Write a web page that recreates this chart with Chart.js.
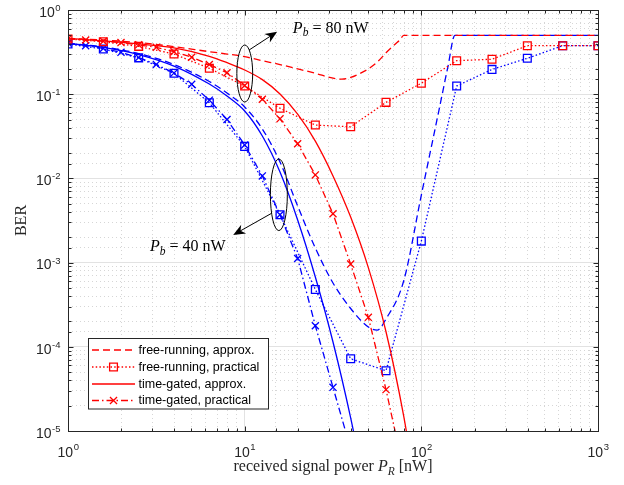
<!DOCTYPE html>
<html><head><meta charset="utf-8">
<script src="https://cdn.jsdelivr.net/npm/chart.js@4.4.0/dist/chart.umd.min.js"></script>
<style>html,body{margin:0;padding:0;background:#fff}#wrap{width:624px;height:485px}</style>
</head><body><div id="wrap"><canvas id="c" width="624" height="485"></canvas></div>
<script>
// ---------- data (x: received power in nW, y: BER) ----------
const xTickExp = [0, 1, 2, 3];
const yTickExp = [-5, -4, -3, -2, -1, 0];

// free-running, approx.  Pb = 80 nW (red)
const P_fa80 = [1, 1.585, 2.512, 3.981, 6.31, 7.943, 10, 12.59, 15.85, 19.95, 25.12, 31.62, 35.48, 39.81, 44.67, 50.12, 56.23, 63.1, 70.79, 75.51, 79.43, 1000];
const B_fa80 = [0.46, 0.44, 0.41, 0.367, 0.32, 0.30, 0.279, 0.25, 0.225, 0.20, 0.177, 0.155, 0.151, 0.158, 0.175, 0.20, 0.24, 0.31, 0.39, 0.44, 0.50, 0.50];
// time-gated, approx.  Pb = 80 nW (red)
const P_ta80 = [1, 1.585, 2.512, 3.981, 6.31, 7.943, 10, 12.59, 15.85, 19.95, 25.12, 31.62, 39.81, 50.12, 63.1, 79.43, 100];
const B_ta80 = [0.46, 0.43, 0.395, 0.355, 0.282, 0.237, 0.194, 0.149, 0.1007, 0.0579, 0.0277, 0.0107, 0.00347, 8.71e-4, 1.51e-4, 1.51e-5, 7.9e-7];
// free-running, approx.  Pb = 40 nW (blue)
const P_fa40 = [1, 1.585, 2.512, 3.981, 6.31, 7.943, 10, 12.59, 15.85, 19.95, 25.12, 31.62, 39.81, 50.12, 56.23, 63.1, 79.43, 100, 125.9, 141.3, 154.9, 1000];
const B_fa40 = [0.40, 0.3636, 0.304, 0.2253, 0.1415, 0.1033, 0.0705, 0.0386, 0.01566, 4.7e-3, 1.49e-3, 5.73e-4, 2.85e-4, 1.72e-4, 1.58e-4, 2.14e-4, 6.04e-4, 6.35e-3, 0.0649, 0.2104, 0.50, 0.50];
// time-gated, approx.  Pb = 40 nW (blue)
const P_ta40 = [1, 1.585, 2.512, 3.981, 6.31, 7.943, 10, 12.59, 15.85, 19.95, 25.12, 31.62, 39.81, 50.12];
const B_ta40 = [0.40, 0.359, 0.296, 0.216, 0.132, 0.0952, 0.0632, 0.0319, 0.0119, 3.21e-3, 6.74e-4, 1.14e-4, 1.43e-5, 1.32e-6];

// practical (simulated) points
const P_fp = [1, 1.585, 2.512, 3.981, 6.31, 10, 15.85, 25.12, 39.81, 63.1, 100, 158.5, 251.2, 398.1, 631, 1000];
const B_fp80 = [0.453, 0.42, 0.37, 0.30, 0.203, 0.125, 0.068, 0.043, 0.041, 0.080, 0.135, 0.25, 0.26, 0.377, 0.377, 0.377];
const B_fp40 = [0.395, 0.344, 0.27, 0.177, 0.079, 0.024, 0.0037, 4.8e-4, 7.2e-5, 5.2e-5, 1.8e-3, 0.125, 0.197, 0.267, 0.377, 0.377];
const P_tp80 = [1, 1.259, 1.585, 1.995, 2.512, 3.162, 3.981, 5.012, 6.31, 7.943, 10, 12.59, 15.85, 19.95, 25.12, 31.62, 39.81, 50.12, 63.1, 79.43];
const B_tp80 = [0.455, 0.44, 0.425, 0.41, 0.386, 0.36, 0.32, 0.275, 0.225, 0.18, 0.127, 0.087, 0.051, 0.0258, 0.011, 0.0038, 9.6e-4, 2.24e-4, 3.1e-5, 3.4e-6];
const P_tp40 = [1, 1.259, 1.585, 1.995, 2.512, 3.162, 3.981, 5.012, 6.31, 7.943, 10, 12.59, 15.85, 19.95, 25.12, 31.62, 39.81];
const B_tp40 = [0.405, 0.377, 0.35, 0.314, 0.272, 0.226, 0.178, 0.131, 0.085, 0.05, 0.025, 0.0107, 0.0037, 1.12e-3, 1.78e-4, 3.3e-5, 6.1e-6];

const legendLabels = ['free-running, approx.', 'free-running, practical', 'time-gated, approx.', 'time-gated, practical'];

// annotation anchors in data coordinates
const ell80 = {x0: 9.03, x1: 11.1, y0: 0.384, y1: 0.0807};
const ell40 = {x0: 13.98, x1: 17.44, y0: 0.0170, y1: 0.0024};
const arr80 = {x0: 10.6, y0: 0.335, x1: 15.27, y1: 0.552};
const arr40 = {x0: 14.2, y0: 3.85e-3, x1: 8.61, y1: 2.13e-3};
const txt80 = {x: 18.74, y: 0.54, val: '80'};
const txt40 = {x: 2.91, y: 1.37e-3, val: '40'};

// ---------- styles ----------
const RED = '#ff0000', BLUE = '#0000ff';
const DASH = [7, 4], DOT = [1.5, 2.2], DASHDOT = [7, 3, 1.5, 3];
const LW = 1.3;
const pts = (P, B) => P.map((p, i) => ({x: p, y: B[i]}));

function approx(P, B, color, dash) {
  return {data: pts(P, B), borderColor: color, borderWidth: LW, borderDash: dash,
    pointRadius: 0, cubicInterpolationMode: 'monotone', fill: false};
}
function practical(P, B, color, dash, style, r) {
  return {data: pts(P, B), borderColor: color, borderWidth: LW, borderDash: dash, tension: 0,
    pointStyle: style, pointRadius: r, pointBorderWidth: LW, pointBorderColor: color,
    pointBackgroundColor: 'rgba(0,0,0,0)', fill: false};
}

const datasets = [
  approx(P_fa80, B_fa80, RED, DASH),
  practical(P_fp, B_fp80, RED, DOT, 'rect', 5.5),
  approx(P_ta80, B_ta80, RED, []),
  practical(P_tp80, B_tp80, RED, DASHDOT, 'crossRot', 5),
  approx(P_fa40, B_fa40, BLUE, DASH),
  practical(P_fp, B_fp40, BLUE, DOT, 'rect', 5.5),
  approx(P_ta40, B_ta40, BLUE, []),
  practical(P_tp40, B_tp40, BLUE, DASHDOT, 'crossRot', 5),
];

const isMajor = v => { const l = Math.log10(v); return Math.abs(l - Math.round(l)) < 1e-6; };
const gridOpts = {
  color: c => isMajor(c.tick.value) ? '#e2e2e2' : '#d6d6d6',
  lineWidth: 1, drawTicks: false
};
const borderOpts = {display: false, dash: c => (c.tick && !isMajor(c.tick.value)) ? [1, 3] : []};

const AX = '#262626';
const SANS = '"Liberation Sans", Arial, sans-serif';
const SERIF = '"Liberation Serif", "Times New Roman", serif';

function drawMathLabel(ctx, parts, x, y, align) {
  const size = 16;
  let w = 0;
  const fonts = parts.map(p => {
    const s = p.sub ? 11.5 : size;
    const f = (p.italic ? 'italic ' : '') + s + 'px ' + SERIF;
    ctx.font = f;
    const pw = ctx.measureText(p.t).width;
    w += pw;
    return {f, pw};
  });
  let cx = align === 'center' ? x - w / 2 : x;
  ctx.textAlign = 'left'; ctx.textBaseline = 'alphabetic';
  parts.forEach((p, i) => {
    ctx.font = fonts[i].f;
    ctx.fillText(p.t, cx, y + (p.sub ? 3.5 : 0));
    cx += fonts[i].pw;
  });
}

function arrow(ctx, x0, y0, x1, y1) {
  const ang = Math.atan2(y1 - y0, x1 - x0);
  const L = 12, W = 5;
  ctx.beginPath(); ctx.moveTo(x0, y0);
  ctx.lineTo(x1 - Math.cos(ang) * 7, y1 - Math.sin(ang) * 7); ctx.stroke();
  const bx = x1 - Math.cos(ang) * L, by = y1 - Math.sin(ang) * L;
  const nx = -Math.sin(ang), ny = Math.cos(ang);
  const mx = x1 - Math.cos(ang) * L * 0.7, my = y1 - Math.sin(ang) * L * 0.7;
  ctx.beginPath();
  ctx.moveTo(x1, y1);
  ctx.lineTo(bx + nx * W, by + ny * W);
  ctx.lineTo(mx, my);
  ctx.lineTo(bx - nx * W, by - ny * W);
  ctx.closePath(); ctx.fill();
}

const decor = {
  id: 'decor',
  afterDraw(chart) {
    const {ctx, chartArea: a, scales: {x, y}} = chart;
    const X = v => x.getPixelForValue(v), Y = v => y.getPixelForValue(v);
    ctx.save();

    ctx.strokeStyle = '#000'; ctx.fillStyle = '#000'; ctx.lineWidth = 1; ctx.setLineDash([]);
    [ell80, ell40].forEach(e => {
      const l = X(e.x0), r = X(e.x1), t = Y(e.y0), b = Y(e.y1);
      ctx.beginPath();
      ctx.ellipse((l + r) / 2, (t + b) / 2, (r - l) / 2, (b - t) / 2, 0, 0, Math.PI * 2);
      ctx.stroke();
    });
    [arr80, arr40].forEach(s => arrow(ctx, X(s.x0), Y(s.y0), X(s.x1), Y(s.y1)));
    [txt80, txt40].forEach(s => drawMathLabel(ctx, [
      {t: 'P', italic: true}, {t: 'b', italic: true, sub: true}, {t: ' = ' + s.val + ' nW'}
    ], X(s.x), Y(s.y), 'left'));

    const L = Math.round(a.left) + 0.5, R = Math.round(a.right) + 0.5;
    const T = Math.round(a.top) + 0.5, B = Math.round(a.bottom) + 0.5;
    ctx.strokeStyle = AX; ctx.lineWidth = 1;
    ctx.strokeRect(L, T, R - L, B - T);

    ctx.beginPath();
    x.ticks.forEach(t => {
      const px = Math.round(X(t.value)) + 0.5, len = isMajor(t.value) ? 5 : 3;
      ctx.moveTo(px, B); ctx.lineTo(px, B - len);
      ctx.moveTo(px, T); ctx.lineTo(px, T + len);
    });
    y.ticks.forEach(t => {
      const py = Math.round(Y(t.value)) + 0.5, len = isMajor(t.value) ? 5 : 3;
      ctx.moveTo(L, py); ctx.lineTo(L + len, py);
      ctx.moveTo(R, py); ctx.lineTo(R - len, py);
    });
    ctx.stroke();

    ctx.fillStyle = AX; ctx.textBaseline = 'alphabetic';
    const BF = '14px ' + SANS, EF = '9.5px ' + SANS;
    xTickExp.forEach(k => {
      const px = X(Math.pow(10, k));
      ctx.font = BF; const w1 = ctx.measureText('10').width;
      ctx.font = EF; const w2 = ctx.measureText(String(k)).width;
      const x0 = px - (w1 + w2) / 2;
      ctx.textAlign = 'left';
      ctx.font = BF; ctx.fillText('10', x0, 456.5);
      ctx.font = EF; ctx.fillText(String(k), x0 + w1 + 0.5, 450);
    });
    yTickExp.forEach(k => {
      const py = Y(Math.pow(10, k));
      const e = k < 0 ? '-' + (-k) : String(k);
      ctx.font = EF; const w2 = ctx.measureText(e).width;
      ctx.textAlign = 'left';
      const xr = a.left - 7.5;
      ctx.fillText(e, xr - w2, py + 1);
      ctx.font = BF; ctx.textAlign = 'right';
      ctx.fillText('10', xr - w2 - 0.5, py + 6.7);
    });

    ctx.fillStyle = AX;
    ctx.save();
    ctx.translate(26, (a.top + a.bottom) / 2);
    ctx.rotate(-Math.PI / 2);
    ctx.font = '16px ' + SERIF; ctx.textAlign = 'center'; ctx.textBaseline = 'alphabetic';
    ctx.fillText('BER', 0, 0);
    ctx.restore();
    drawMathLabel(ctx, [
      {t: 'received signal power '}, {t: 'P', italic: true}, {t: 'R', italic: true, sub: true}, {t: ' [nW]'}
    ], (a.left + a.right) / 2, 471, 'center');

    const lx = 88.5, ly = 338.5, lw = 180, lh = 70.5;
    ctx.fillStyle = '#fff'; ctx.fillRect(lx, ly, lw, lh);
    ctx.strokeStyle = AX; ctx.lineWidth = 1; ctx.setLineDash([]);
    ctx.strokeRect(lx, ly, lw, lh);
    const rows = [350, 367, 384, 400.5];
    for (let i = 0; i < 4; i++) {
      const ds = chart.data.datasets[i];
      const yy = rows[i];
      ctx.strokeStyle = ds.borderColor; ctx.lineWidth = LW;
      ctx.setLineDash(ds.borderDash || []);
      ctx.beginPath(); ctx.moveTo(92, yy); ctx.lineTo(135, yy); ctx.stroke();
      ctx.setLineDash([]);
      if (ds.pointRadius) {
        ctx.fillStyle = 'rgba(0,0,0,0)';
        Chart.helpers.drawPoint(ctx, {pointStyle: ds.pointStyle, radius: ds.pointRadius, borderWidth: LW, rotation: 0}, 113.5, yy);
      }
      ctx.fillStyle = '#000'; ctx.font = '12.5px ' + SANS;
      ctx.textAlign = 'left'; ctx.textBaseline = 'middle';
      ctx.fillText(legendLabels[i], 138.5, yy + 0.5);
    }
    ctx.restore();
  }
};

new Chart(document.getElementById('c'), {
  type: 'line',
  data: {datasets},
  options: {
    responsive: false, animation: false, devicePixelRatio: 1, events: [],
    layout: {padding: {left: 68, right: 26, top: 10, bottom: 54}},
    plugins: {legend: {display: false}, tooltip: {enabled: false}},
    scales: {
      x: {type: 'logarithmic', min: 1, max: 1000, ticks: {display: false},
          grid: gridOpts, border: borderOpts, title: {display: false}},
      y: {type: 'logarithmic', min: 1e-5, max: 1, ticks: {display: false},
          grid: gridOpts, border: borderOpts, title: {display: false}}
    }
  },
  plugins: [decor]
});
</script></body></html>
